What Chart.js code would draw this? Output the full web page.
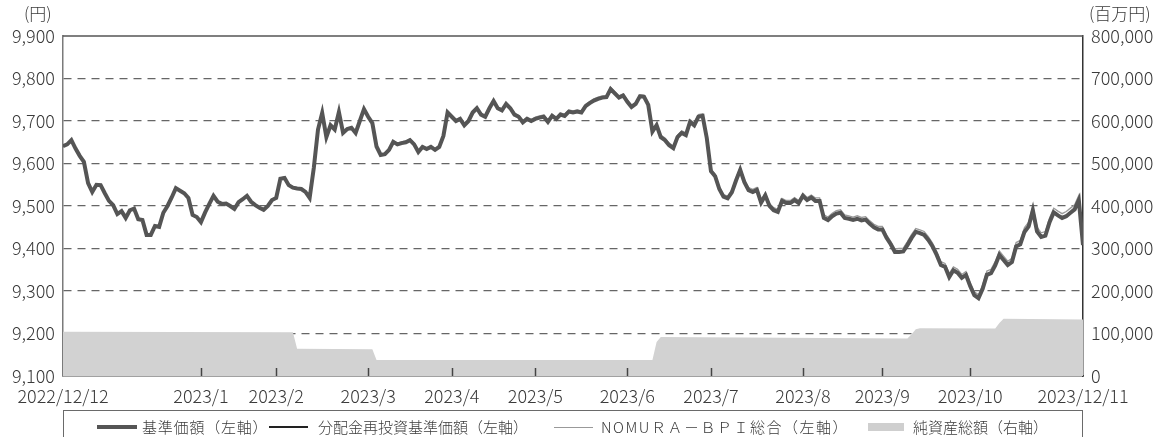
<!DOCTYPE html>
<html lang="ja">
<head>
<meta charset="utf-8">
<title>基準価額の推移</title>
<script src="https://cdn.jsdelivr.net/npm/chart.js@4.4.0/dist/chart.umd.min.js"></script>
<style>
  html, body { margin: 0; padding: 0; background: #fff; overflow: hidden; }
  #wrap { position: relative; width: 1168px; height: 437px; }
  #legend {
    position: absolute; left: 63px; top: 410px; width: 1020px; height: 40px;
    border: 1.5px solid #6a6a6a; box-sizing: border-box;
    font-family: "Noto Sans CJK JP", "Noto Sans", sans-serif; font-weight: 300; font-size: 15px; color: #3a3a3a;
  }
  #legend .sym { position: absolute; }
  #legend .txt { position: absolute; top: 6px; line-height: 20px; white-space: nowrap; }
</style>
</head>
<body>
<div id="wrap">
  <canvas id="chart" width="1168" height="437"></canvas>
  <div id="legend">
    <div class="sym" style="left:33px; top:14px; width:40px; height:4px; background:#555;"></div>
    <span class="txt" style="left:78px; letter-spacing:0.8px;">基準価額（左軸）</span>
    <div class="sym" style="left:205px; top:15px; width:39px; height:2px; background:#222;"></div>
    <span class="txt" style="left:254px;">分配金再投資基準価額（左軸）</span>
    <div class="sym" style="left:490px; top:16px; width:39px; height:1px; background:#999;"></div>
    <span class="txt" style="left:537px; letter-spacing:1.5px;">NOMUＲＡ－ＢＰＩ総合（左軸）</span>
    <div class="sym" style="left:804px; top:12px; width:36px; height:8px; background:#cfcfcf;"></div>
    <span class="txt" style="left:849px;">純資産総額（右軸）</span>
  </div>
</div>
<script>
// 基準価額（円） - 営業日ごと
const baseValues = [
  9641, 9645, 9655, 9635, 9618, 9604, 9554, 9533, 9550, 9549,
  9530, 9512, 9502, 9481, 9488, 9472, 9490, 9494, 9469, 9467,
  9432, 9432, 9453, 9451, 9484, 9500, 9520, 9542, 9536, 9530,
  9519, 9479, 9474, 9462, 9485, 9505, 9524, 9510, 9505, 9506,
  9500, 9493, 9509, 9516, 9524, 9510, 9502, 9496, 9491, 9500,
  9514, 9519, 9564, 9566, 9549, 9543, 9541, 9540, 9533, 9519,
  9590, 9680, 9719, 9662, 9690, 9680, 9721, 9672, 9681, 9684,
  9672, 9700, 9728, 9710, 9695, 9640, 9620, 9622, 9632, 9651,
  9645, 9648, 9650, 9655, 9645, 9627, 9639, 9634, 9639, 9632,
  9639, 9665, 9720, 9710, 9700, 9705, 9690, 9700, 9720, 9730,
  9715, 9710, 9730, 9747, 9730, 9725, 9740, 9730, 9715, 9710,
  9697, 9705, 9700, 9705, 9708, 9710, 9698, 9712, 9705, 9715,
  9712, 9722, 9720, 9722, 9720, 9735, 9742, 9748, 9752, 9755,
  9756, 9775, 9765, 9755, 9760, 9745, 9733, 9740, 9758, 9757,
  9738, 9675, 9690, 9662, 9655, 9643, 9636, 9662, 9672, 9667,
  9698, 9690, 9710, 9712, 9660, 9582, 9570, 9540, 9522, 9518,
  9532, 9560, 9585, 9556, 9537, 9533, 9538, 9508, 9525, 9500,
  9490, 9486, 9512, 9507, 9507, 9514, 9507, 9524, 9514, 9520,
  9512, 9512, 9472, 9467, 9476, 9482, 9484, 9472, 9470, 9467,
  9470, 9466, 9468, 9458, 9450, 9445, 9445, 9425, 9410, 9392,
  9392, 9393, 9408, 9425, 9439, 9436, 9432, 9420, 9405, 9385,
  9361, 9357, 9333, 9349, 9343, 9331, 9338, 9312, 9290, 9283,
  9305, 9338, 9342, 9360, 9385, 9373, 9361, 9368, 9405, 9410,
  9439, 9452, 9490, 9440, 9427, 9430, 9462, 9485, 9478, 9472,
  9476, 9484, 9492, 9514, 9408
];

// 分配金再投資基準価額（円） - 基準価額と重なっている
const reinvestValues = baseValues.slice();

// NOMURA-BPI総合（円換算）
const bpiValues = [
  9642, 9646, 9656, 9636, 9619, 9605, 9555, 9534, 9551, 9550,
  9531, 9513, 9503, 9482, 9489, 9473, 9491, 9495, 9470, 9468,
  9433, 9433, 9454, 9452, 9485, 9501, 9521, 9543, 9537, 9531,
  9520, 9480, 9475, 9463, 9486, 9506, 9525, 9511, 9506, 9507,
  9502, 9495, 9511, 9518, 9526, 9512, 9504, 9498, 9493, 9502,
  9516, 9521, 9566, 9568, 9551, 9545, 9543, 9542, 9535, 9521,
  9592, 9682, 9721, 9664, 9692, 9682, 9723, 9674, 9683, 9686,
  9674, 9702, 9730, 9712, 9697, 9642, 9622, 9624, 9634, 9653,
  9648, 9651, 9653, 9658, 9648, 9630, 9642, 9637, 9642, 9635,
  9642, 9668, 9723, 9713, 9703, 9708, 9693, 9703, 9723, 9733,
  9718, 9713, 9733, 9750, 9733, 9728, 9743, 9733, 9718, 9713,
  9701, 9709, 9704, 9709, 9712, 9714, 9702, 9716, 9709, 9719,
  9716, 9726, 9724, 9726, 9724, 9739, 9746, 9752, 9756, 9759,
  9760, 9779, 9769, 9759, 9764, 9749, 9737, 9744, 9762, 9761,
  9743, 9680, 9695, 9667, 9660, 9648, 9641, 9667, 9677, 9672,
  9703, 9695, 9715, 9717, 9665, 9587, 9575, 9545, 9527, 9523,
  9538, 9566, 9591, 9562, 9543, 9539, 9544, 9514, 9531, 9506,
  9496, 9492, 9518, 9513, 9513, 9520, 9513, 9530, 9520, 9526,
  9519, 9519, 9479, 9474, 9483, 9489, 9491, 9479, 9477, 9474,
  9477, 9473, 9475, 9465, 9457, 9452, 9452, 9432, 9417, 9399,
  9400, 9401, 9416, 9433, 9447, 9444, 9440, 9428, 9413, 9393,
  9369, 9365, 9341, 9357, 9351, 9339, 9346, 9320, 9298, 9291,
  9314, 9347, 9351, 9369, 9394, 9382, 9370, 9377, 9414, 9419,
  9449, 9462, 9500, 9450, 9437, 9440, 9472, 9495, 9488, 9482,
  9487, 9495, 9503, 9525, 9419
];

// 純資産総額（百万円） - 変化点のみ
const netIndex = [0, 55, 56, 74, 75, 141, 142, 143, 202, 203, 204, 205, 223, 224, 225, 244];
const netValues = [104000, 103000, 64000, 63000, 37500, 37500, 80000, 92000, 88500, 98000, 110000, 112500, 112000, 125000, 135000, 133000];

// 横軸ラベル
const tickIndex = [0, 33, 51, 73, 93, 113, 135, 155, 177, 196, 217, 244];
const tickLabels = ['2022/12/12', '2023/1', '2023/2', '2023/3', '2023/4', '2023/5', '2023/6', '2023/7', '2023/8', '2023/9', '2023/10', '2023/12/11'];

const FONT = '"Noto Sans CJK JP", "Noto Sans", sans-serif';
const TEXT = '#3a3a3a';

function toPoints(values) {
  return values.map((v, i) => ({ x: i, y: v }));
}

// 枠の上辺、目盛り（内向き）、単位の表示
const extrasPlugin = {
  id: 'extras',
  afterDraw(chart) {
    const { ctx, chartArea } = chart;
    const xs = chart.scales.x;
    ctx.save();
    ctx.strokeStyle = '#555';
    ctx.lineWidth = 1.5;
    ctx.beginPath();
    ctx.moveTo(chartArea.left, chartArea.top);
    ctx.lineTo(chartArea.right, chartArea.top);
    ctx.stroke();

    ctx.strokeStyle = '#444';
    ctx.lineWidth = 1.5;
    tickIndex.slice(1, -1).forEach(v => {
      const px = Math.round(xs.getPixelForValue(v)) + 0.5;
      ctx.beginPath();
      ctx.moveTo(px, chartArea.bottom);
      ctx.lineTo(px, chartArea.bottom - 8);
      ctx.stroke();
    });

    ctx.fillStyle = TEXT;
    ctx.textBaseline = 'middle';
    ctx.textAlign = 'left';
    ctx.font = '300 17px ' + FONT;
    ctx.fillText('(円)', 24, 14);
    ctx.fillText('(百万円)', 1089, 14);
    ctx.restore();
  }
};

const tickFont = { family: FONT, size: 18, weight: '300' };

new Chart(document.getElementById('chart'), {
  type: 'line',
  data: {
    datasets: [
      {
        label: '基準価額（左軸）',
        data: toPoints(baseValues),
        yAxisID: 'y',
        borderColor: '#555555',
        borderWidth: 4,
        pointRadius: 0,
        fill: false,
        order: 1
      },
      {
        label: '分配金再投資基準価額（左軸）',
        data: toPoints(reinvestValues),
        yAxisID: 'y',
        borderColor: '#222222',
        borderWidth: 1.5,
        pointRadius: 0,
        fill: false,
        order: 2
      },
      {
        label: 'NOMUＲＡ－ＢＰＩ総合（左軸）',
        data: toPoints(bpiValues),
        yAxisID: 'y',
        borderColor: '#9a9a9a',
        borderWidth: 1.3,
        pointRadius: 0,
        fill: false,
        order: 3
      },
      {
        label: '純資産総額（右軸）',
        data: netIndex.map((x, k) => ({ x: x, y: netValues[k] })),
        yAxisID: 'y2',
        borderWidth: 0,
        borderColor: 'rgba(0,0,0,0)',
        backgroundColor: '#d2d2d2',
        pointRadius: 0,
        fill: 'origin',
        order: 10
      }
    ]
  },
  options: {
    responsive: false,
    animation: false,
    layout: { padding: { top: 36 } },
    plugins: {
      legend: { display: false },
      tooltip: { enabled: false }
    },
    elements: { line: { tension: 0 } },
    scales: {
      x: {
        type: 'linear',
        min: 0,
        max: baseValues.length - 1,
        grid: { display: false },
        border: { color: '#444', width: 1.5 },
        afterBuildTicks: axis => { axis.ticks = tickIndex.map(v => ({ value: v })); },
        afterFit: s => { s.height = 61; },
        ticks: {
          autoSkip: false,
          maxRotation: 0,
          color: TEXT,
          padding: 1,
          font: tickFont,
          callback: v => tickLabels[tickIndex.indexOf(v)]
        }
      },
      y: {
        position: 'left',
        min: 9100,
        max: 9900,
        afterFit: s => { s.width = 63; },
        grid: {
          drawTicks: false,
          lineWidth: 1.2,
          color: c => (c.tick && (c.tick.value === 9100 || c.tick.value === 9900)) ? 'rgba(0,0,0,0)' : '#666'
        },
        border: { color: '#7a7a7a', width: 1.5, dash: [8, 6] },
        ticks: {
          stepSize: 100,
          color: TEXT,
          padding: 8,
          font: tickFont,
          callback: v => v.toLocaleString('en-US')
        }
      },
      y2: {
        position: 'right',
        min: 0,
        max: 800000,
        afterFit: s => { s.width = 85; },
        grid: { display: false, drawTicks: false },
        border: { color: '#333', width: 1.5 },
        ticks: {
          stepSize: 100000,
          color: TEXT,
          padding: 8,
          font: tickFont,
          callback: v => v.toLocaleString('en-US')
        }
      }
    }
  },
  plugins: [extrasPlugin]
});
</script>
</body>
</html>
